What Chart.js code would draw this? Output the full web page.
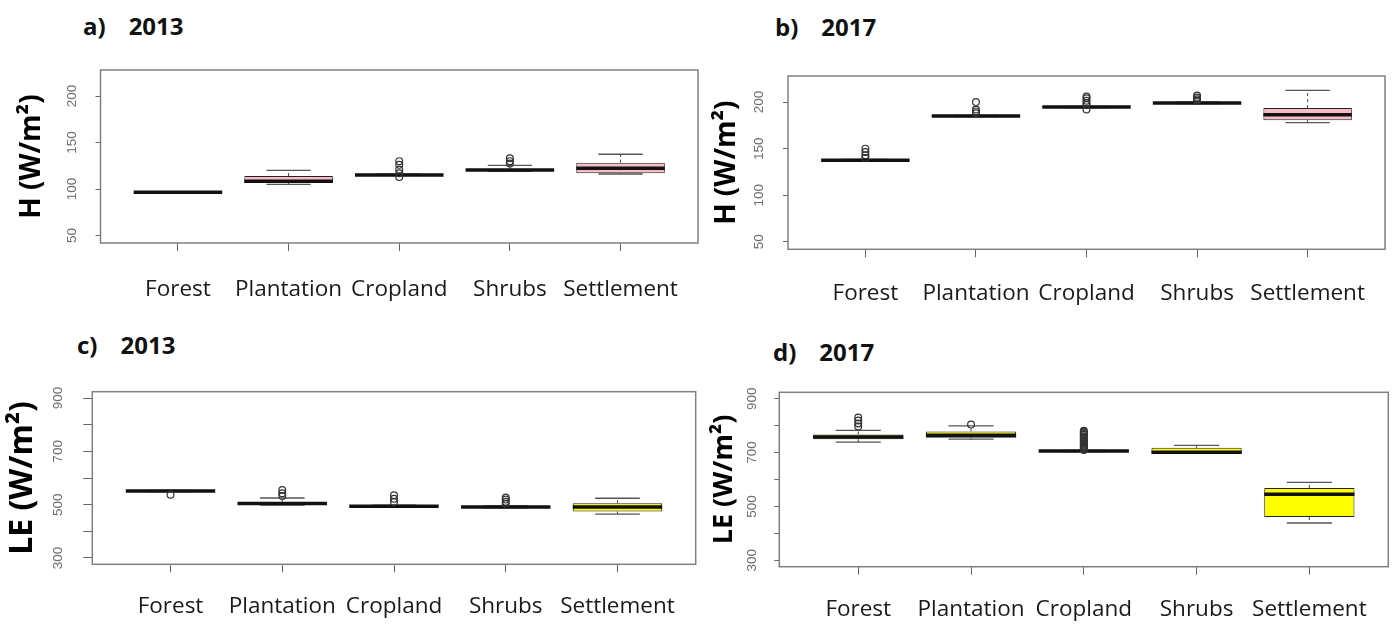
<!DOCTYPE html>
<html>
<head>
<meta charset="utf-8">
<script src="https://cdn.jsdelivr.net/npm/chart.js@4.4.1/dist/chart.umd.min.js"></script>
<style>
  html, body { margin: 0; padding: 0; background: #fff; }
  body { width: 1397px; height: 624px; position: relative; overflow: hidden; }
  canvas { position: absolute; }
  .ttl { position: absolute; font-family: 'Open Sans', sans-serif; font-weight: 700;
         font-size: 24px; line-height: 24px; color: #111; white-space: nowrap; }
  .ttl span { margin-left: 23px; }
</style>
</head>
<body>
<div class="ttl" style="left:83px;top:13.7px">a)<span>2013</span></div>
<div class="ttl" style="left:775px;top:15.2px">b)<span>2017</span></div>
<div class="ttl" style="left:77px;top:333px">c)<span>2013</span></div>
<div class="ttl" style="left:773px;top:339.7px">d)<span>2017</span></div>

<canvas id="panelA" width="710" height="260" style="left:0px;top:60px"></canvas>
<canvas id="panelB" width="697" height="265" style="left:700px;top:60px"></canvas>
<canvas id="panelC" width="710" height="244" style="left:0px;top:380px"></canvas>
<canvas id="panelD" width="697" height="244" style="left:700px;top:380px"></canvas>

<script>
// Land-cover classes along the x axis
const categories = ['Forest', 'Plantation', 'Cropland', 'Shrubs', 'Settlement'];

// Sensible heat flux H (W/m²), 2013
const h13Low      = [96.0, 105.0, 114.6, 119.0, 116.2];
const h13Q1       = [96.2, 106.5, 114.8, 119.6, 117.0];
const h13Median   = [96.6, 108.5, 115.2, 120.5, 122.3];
const h13Q3       = [97.0, 114.0, 115.6, 121.3, 128.4];
const h13High     = [97.3, 120.0, 116.0, 125.5, 137.4];
const h13Outliers = [[], [], [130, 126, 121, 117, 113], [133, 130, 127.5], []];

// Sensible heat flux H (W/m²), 2017
const h17Low      = [137.0, 184.3, 194.0, 198.4, 178.0];
const h17Q1       = [137.2, 184.6, 194.3, 198.7, 180.4];
const h17Median   = [137.6, 185.0, 194.7, 199.0, 186.5];
const h17Q3       = [138.0, 185.4, 195.1, 199.4, 193.6];
const h17High     = [138.4, 185.8, 195.5, 199.8, 212.5];
const h17Outliers = [[150, 146.5, 143, 140], [200, 192, 190, 188],
                     [206, 204, 201.5, 199, 197, 192], [207, 205, 203, 201.5], []];

// Latent heat flux LE (W/m²), 2013
const le13Low      = [549, 498, 491.5, 487.5, 464.6];
const le13Q1       = [549.5, 500, 492.5, 488.5, 474.6];
const le13Median   = [551, 504, 494.4, 490.7, 490.7];
const le13Q3       = [552.5, 508, 496.5, 492.5, 505.6];
const le13High     = [553, 525, 498, 495, 524];
const le13Outliers = [[537], [555, 543, 532], [535, 522, 510], [527, 519, 511, 503], []];

// Latent heat flux LE (W/m²), 2017
const le17Low      = [739, 750, 703.5, 697, 438.4];
const le17Q1       = [750, 755, 704.2, 697, 460.7];
const le17Median   = [757.5, 764, 705.6, 700.8, 545];
const le17Q3       = [767.5, 778.7, 707, 718, 568.3];
const le17High     = [782.4, 799, 708, 726.7, 589.4];
const le17Outliers = [[830, 819, 808, 797], [804],
                      [781, 777, 774, 769, 766, 761, 757, 753, 750, 745, 741, 738, 733, 729, 726, 721, 717, 713, 710],
                      [], []];

// Axis ticks and the subset of them that carry a label
const hTicks       = [50, 100, 150, 200];
const hTickLabels  = [50, 100, 150, 200];
const leTicks      = [300, 400, 500, 600, 700, 800, 900];
const leTickLabels = [300, 500, 700, 900];

function boxPlugin(cfg) {
  const line = (ctx, x1, y1, x2, y2) => { ctx.beginPath(); ctx.moveTo(x1, y1); ctx.lineTo(x2, y2); ctx.stroke(); };
  return {
    id: 'boxParts',
    // whiskers (dashed) and staples, behind the boxes
    beforeDatasetsDraw(chart) {
      const { ctx } = chart;
      const ys = chart.scales.y;
      const bars = chart.getDatasetMeta(0).data;
      ctx.save();
      bars.forEach((bar, i) => {
        const { x, width } = bar.getProps(['x', 'width'], true);
        const yLow = ys.getPixelForValue(cfg.low[i]);
        const yHigh = ys.getPixelForValue(cfg.high[i]);
        const yQ1 = ys.getPixelForValue(cfg.q1[i]);
        const yQ3 = ys.getPixelForValue(cfg.q3[i]);
        ctx.strokeStyle = '#444';
        ctx.lineWidth = 1;
        ctx.setLineDash([3, 3]);
        line(ctx, x, yQ3, x, yHigh);
        line(ctx, x, yQ1, x, yLow);
        ctx.setLineDash([]);
        ctx.strokeStyle = '#555';
        ctx.lineWidth = 1.3;
        line(ctx, x - width / 4, yHigh, x + width / 4, yHigh);
        line(ctx, x - width / 4, yLow, x + width / 4, yLow);
      });
      ctx.restore();
    },
    // medians, on top of the boxes
    afterDatasetDraw(chart, args) {
      if (args.index !== 0) return;
      const { ctx } = chart;
      const ys = chart.scales.y;
      ctx.save();
      ctx.strokeStyle = '#111';
      ctx.lineWidth = 3.5;
      chart.getDatasetMeta(0).data.forEach((bar, i) => {
        const { x, width } = bar.getProps(['x', 'width'], true);
        const y = ys.getPixelForValue(cfg.median[i]);
        line(ctx, x - width / 2, y, x + width / 2, y);
      });
      ctx.restore();
    },
    // plot frame and rotated y tick labels
    afterDraw(chart) {
      const { ctx, chartArea: a } = chart;
      const ys = chart.scales.y;
      ctx.save();
      ctx.strokeStyle = '#808080';
      ctx.lineWidth = 1.5;
      ctx.strokeRect(a.left, a.top, a.right - a.left, a.bottom - a.top);
      ctx.font = '13.5px "Liberation Sans", Arial, sans-serif';
      ctx.fillStyle = '#6e6e6e';
      ctx.textAlign = 'center';
      ctx.textBaseline = 'middle';
      cfg.tickLabels.forEach(v => {
        ctx.save();
        ctx.translate(a.left - cfg.yLabelGap, ys.getPixelForValue(v));
        ctx.rotate(-Math.PI / 2);
        ctx.fillText(String(v), 0, 0);
        ctx.restore();
      });
      ctx.restore();
    }
  };
}

function drawPanel(cfg) {
  const boxes = categories.map((c, i) => ({ x: i + 1, y: [cfg.q1[i], cfg.q3[i]] }));
  const points = [];
  cfg.outliers.forEach((vals, i) => vals.forEach(v => points.push({ x: i + 1, y: v })));

  new Chart(document.getElementById(cfg.id), {
    type: 'bar',
    data: {
      datasets: [
        { type: 'bar', data: boxes, backgroundColor: cfg.fill, borderColor: '#222',
          borderWidth: 1, borderSkipped: false, categoryPercentage: 0.8, barPercentage: 1, order: 2 },
        { type: 'scatter', data: points, pointStyle: 'circle', pointRadius: 3.4,
          borderColor: '#333', backgroundColor: 'rgba(0,0,0,0)', borderWidth: 1.2, order: 1 }
      ]
    },
    options: {
      responsive: false,
      animation: false,
      devicePixelRatio: 1,
      layout: { padding: cfg.padding },
      plugins: { legend: { display: false }, tooltip: { enabled: false } },
      scales: {
        x: {
          type: 'linear', min: 0.3, max: 5.7, offset: false,
          afterBuildTicks: s => { s.ticks = categories.map((c, i) => ({ value: i + 1 })); },
          afterFit: s => { s.height = cfg.xHeight; },
          ticks: {
            callback: v => categories[Math.round(v) - 1],
            font: { family: "'Open Sans', sans-serif", size: 22.5 },
            color: '#1a1a1a', padding: cfg.xPad, maxRotation: 0, autoSkip: false
          },
          grid: { drawOnChartArea: false, drawTicks: true, tickLength: 8, color: '#666', lineWidth: 1, offset: false },
          border: { display: false }
        },
        y: {
          type: 'linear', min: cfg.yMin, max: cfg.yMax, beginAtZero: false,
          afterBuildTicks: s => { s.ticks = cfg.ticks.map(v => ({ value: v })); },
          afterFit: s => { s.width = cfg.yWidth; },
          ticks: { display: false },
          grid: { drawOnChartArea: false, drawTicks: true, tickLength: cfg.yTick, color: '#666', lineWidth: 1 },
          border: { display: false },
          title: {
            display: true, text: cfg.yTitle, color: '#000',
            font: { family: "'Open Sans', sans-serif", weight: 'bold', size: cfg.titleSize },
            padding: { top: cfg.titlePad, bottom: 0 }
          }
        }
      }
    },
    plugins: [boxPlugin(cfg)]
  });
}

drawPanel({
  id: 'panelA', low: h13Low, q1: h13Q1, median: h13Median, q3: h13Q3, high: h13High, outliers: h13Outliers,
  fill: '#f7bcc8', yMin: 42, yMax: 228, ticks: hTicks, tickLabels: hTickLabels,
  yTitle: 'H (W/m²)', titleSize: 28, titlePad: 15.2,
  padding: { left: 0, top: 10, right: 12, bottom: 0 }, yWidth: 100.5, xHeight: 77,
  xPad: 25.5, yTick: 5, yLabelGap: 28.5
});
drawPanel({
  id: 'panelB', low: h17Low, q1: h17Q1, median: h17Median, q3: h17Q3, high: h17High, outliers: h17Outliers,
  fill: '#f7bcc8', yMin: 42, yMax: 228, ticks: hTicks, tickLabels: hTickLabels,
  yTitle: 'H (W/m²)', titleSize: 28, titlePad: 9.9,
  padding: { left: 0, top: 16, right: 12, bottom: 0 }, yWidth: 88, xHeight: 75.7,
  xPad: 22.7, yTick: 5, yLabelGap: 29
});
drawPanel({
  id: 'panelC', low: le13Low, q1: le13Q1, median: le13Median, q3: le13Q3, high: le13High, outliers: le13Outliers,
  fill: '#ffff00', yMin: 276, yMax: 924, ticks: leTicks, tickLabels: leTickLabels,
  yTitle: 'LE (W/m²)', titleSize: 32, titlePad: 3.8,
  padding: { left: 0, top: 11.7, right: 14.3, bottom: 0 }, yWidth: 92.3, xHeight: 59.7,
  xPad: 21.2, yTick: 9, yLabelGap: 34
});
drawPanel({
  id: 'panelD', low: le17Low, q1: le17Q1, median: le17Median, q3: le17Q3, high: le17High, outliers: le17Outliers,
  fill: '#ffff00', yMin: 276, yMax: 924, ticks: leTicks, tickLabels: leTickLabels,
  yTitle: 'LE (W/m²)', titleSize: 27, titlePad: 7.8,
  padding: { left: 0, top: 12.3, right: 8.7, bottom: 0 }, yWidth: 79.3, xHeight: 57.3,
  xPad: 21.3, yTick: 5, yLabelGap: 27
});
</script>
</body>
</html>
